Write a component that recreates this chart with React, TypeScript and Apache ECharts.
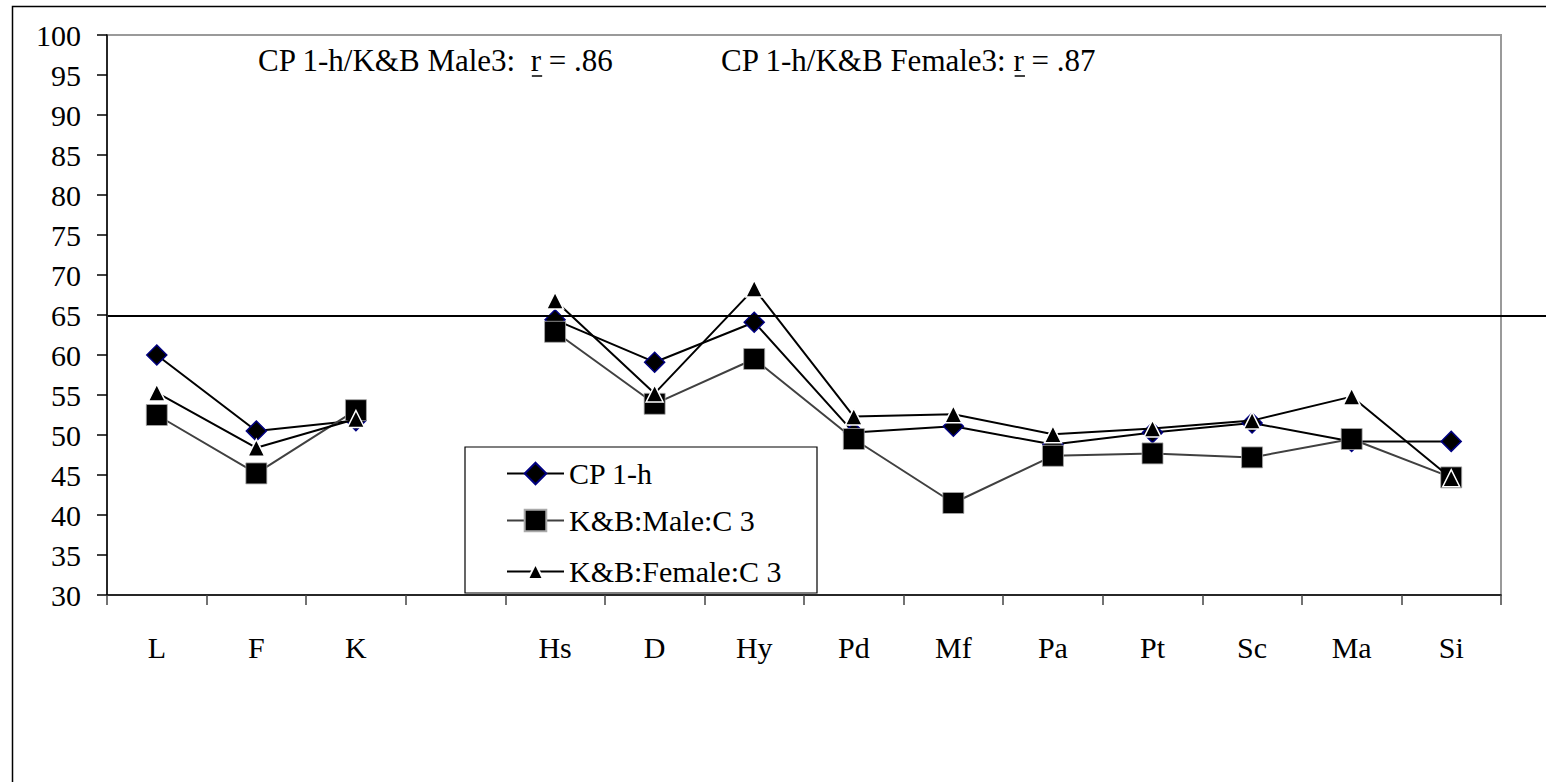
import React, { useEffect, useRef } from "react";
import * as echarts from "echarts";

// MMPI scale profile: CP 1-h against the K&B male / female code-type means
const categories = ["L", "F", "K", "", "Hs", "D", "Hy", "Pd", "Mf", "Pa", "Pt", "Sc", "Ma", "Si"];
const cp1h = [60, 50.5, 51.8, null, 64.4, 59.1, 64.1, 50.3, 51.1, 48.8, 50.3, 51.5, 49.2, 49.2];
const kbMale = [52.5, 45.2, 53.1, null, 62.9, 53.9, 59.5, 49.5, 41.5, 47.4, 47.7, 47.2, 49.5, 44.7];
const kbFemale = [55.3, 48.4, 52.0, null, 66.8, 55.2, 68.3, 52.3, 52.6, 50.1, 50.8, 51.8, 54.8, 44.6];
const seriesNames = ["CP 1-h", "K&B:Male:C 3", "K&B:Female:C 3"];
const yMin = 30;
const yMax = 100;
const yStep = 5;
const cutoff = 65;
const notePrefixes = ["CP 1-h/K&B Male3:  ", "CP 1-h/K&B Female3: "];
const noteValues = [" = .86", " = .87"];

const FONT = '"Liberation Serif", "Times New Roman", serif';
const W = 1546;
const H = 782;
const NOTE_SIZE = 31;

function textWidth(s: string, size: number): number {
  const ctx = document.createElement("canvas").getContext("2d");
  if (!ctx) return s.length * size * 0.45;
  ctx.font = `${size}px "Liberation Serif"`;
  return ctx.measureText(s).width;
}

export default function App() {
  const ref = useRef<HTMLDivElement>(null);

  useEffect(() => {
    if (!ref.current) return;
    const chart = echarts.init(ref.current, null, { renderer: "svg" });

    const legendBase = {
      left: 506,
      itemWidth: 57,
      padding: 0,
      selectedMode: false,
      textStyle: { fontSize: 30, fontFamily: FONT, color: "#000" },
    };

    chart.setOption({
      animation: false,
      backgroundColor: "#fff",
      grid: {
        left: 107,
        top: 35,
        right: W - 1501,
        bottom: H - 595,
        show: true,
        borderColor: "#9a9a9a",
        borderWidth: 2,
        backgroundColor: "transparent",
      },
      xAxis: {
        type: "category",
        data: categories,
        boundaryGap: true,
        axisLine: { lineStyle: { color: "#000", width: 1.5 } },
        axisTick: { show: true, length: 10, lineStyle: { color: "#444", width: 1.5 } },
        axisLabel: { fontSize: 30, fontFamily: FONT, color: "#000", margin: 37, interval: 0 },
        splitLine: { show: false },
      },
      yAxis: {
        type: "value",
        min: yMin,
        max: yMax,
        interval: yStep,
        axisLine: { show: true, lineStyle: { color: "#000", width: 1.5 } },
        axisTick: { show: true, length: 10, lineStyle: { color: "#000", width: 1.5 } },
        axisLabel: { fontSize: 30, fontFamily: FONT, color: "#000", margin: 26 },
        splitLine: { show: false },
      },
      legend: [
        { ...legendBase, data: [seriesNames[0]], top: 472 - 13.5, itemHeight: 27 },
        { ...legendBase, data: [seriesNames[1]], top: 519 - 13.5, itemHeight: 27 },
        { ...legendBase, data: [seriesNames[2]], top: 566 - 9.5, itemHeight: 19 },
      ],
      series: [
        {
          name: seriesNames[0],
          type: "line",
          data: cp1h,
          connectNulls: false,
          symbol: "diamond",
          symbolSize: 20,
          itemStyle: { color: "#000", borderColor: "#000080", borderWidth: 1.5 },
          lineStyle: { color: "#000", width: 2 },
          z: 2,
        },
        {
          name: seriesNames[1],
          type: "line",
          data: kbMale,
          connectNulls: false,
          symbol: "rect",
          symbolSize: 21,
          itemStyle: { color: "#000", borderColor: "#aaa", borderWidth: 0.8 },
          lineStyle: { color: "#404040", width: 2 },
          z: 3,
        },
        {
          name: seriesNames[2],
          type: "line",
          data: kbFemale,
          connectNulls: false,
          symbol: "triangle",
          symbolSize: 17,
          itemStyle: { color: "#000", borderColor: "#fff", borderWidth: 1.5 },
          lineStyle: { color: "#000", width: 2 },
          z: 4,
        },
      ],
    });

    // Decorations placed in pixel space after the axes exist
    const yCut = chart.convertToPixel({ yAxisIndex: 0 }, cutoff) as number;
    const noteX = [258, 721];
    const noteY = 60;
    const elements: any[] = [
      {
        type: "rect",
        id: "frame",
        shape: { x: 12.5, y: 6.5, width: 1700, height: 1000 },
        style: { fill: "none", stroke: "#000", lineWidth: 1.5 },
        silent: true,
        z: 1,
      },
      {
        type: "rect",
        id: "legendBox",
        shape: { x: 465, y: 447, width: 352, height: 146 },
        style: { fill: "#fff", stroke: "#000", lineWidth: 1.2 },
        silent: true,
        z: 3,
      },
      {
        type: "line",
        id: "cutoff",
        shape: { x1: 108, y1: yCut + 1, x2: W, y2: yCut + 1 },
        style: { stroke: "#000", lineWidth: 2 },
        silent: true,
        z: 5,
      },
    ];
    notePrefixes.forEach((prefix, i) => {
      const full = prefix + "r" + noteValues[i];
      elements.push({
        type: "text",
        id: "note" + i,
        x: noteX[i],
        y: noteY,
        style: {
          text: full,
          font: `${NOTE_SIZE}px ${FONT}`,
          fill: "#000",
          verticalAlign: "middle",
        },
        silent: true,
        z: 5,
      });
      const rx = noteX[i] + textWidth(prefix, NOTE_SIZE);
      const rw = textWidth("r", NOTE_SIZE);
      elements.push({
        type: "line",
        id: "underline" + i,
        shape: { x1: rx, y1: noteY + 16, x2: rx + rw, y2: noteY + 16 },
        style: { stroke: "#000", lineWidth: 1.5 },
        silent: true,
        z: 5,
      });
    });
    chart.setOption({ graphic: { elements } });

    return () => chart.dispose();
  }, []);

  return (
    <div
      ref={ref}
      style={{ position: "fixed", left: 0, top: 0, width: W, height: H, background: "#fff" }}
    />
  );
}
